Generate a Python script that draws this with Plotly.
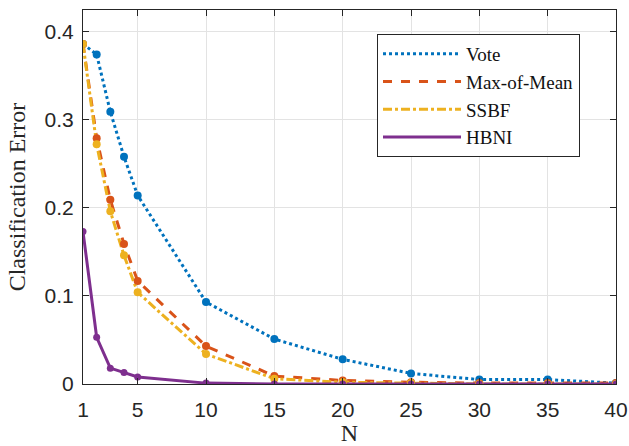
import plotly.graph_objects as go

N = [1, 2, 3, 4, 5, 10, 15, 20, 25, 30, 35, 40]
vote = [0.386, 0.374, 0.309, 0.258, 0.214, 0.093, 0.051, 0.028, 0.012, 0.005, 0.005, 0.001]
max_of_mean = [0.386, 0.279, 0.209, 0.159, 0.117, 0.043, 0.009, 0.004, 0.002, 0.001, 0.001, 0.001]
ssbf = [0.386, 0.272, 0.196, 0.146, 0.104, 0.034, 0.006, 0.002, 0.001, 0.0, 0.0, 0.0]
hbni = [0.173, 0.053, 0.018, 0.013, 0.008, 0.001, 0.0, 0.0, 0.0, 0.0, 0.0, 0.0]
x_ticks = [1, 5, 10, 15, 20, 25, 30, 35, 40]
y_ticks = [0, 0.1, 0.2, 0.3, 0.4]
y_ticktext = ["0", "0.1", "0.2", "0.3", "0.4"]

fig = go.Figure()
series = [
    ("Vote", vote, "#0072BD", "dot", 8),
    ("Max-of-Mean", max_of_mean, "#D95319", "dash", 8),
    ("SSBF", ssbf, "#EDB120", "dashdot", 8),
    ("HBNI", hbni, "#7E2F8E", "solid", 7),
]
for name, vals, color, dash, ms in series:
    fig.add_trace(go.Scatter(
        x=N, y=vals, name=name, mode="lines",
        line=dict(color=color, width=3, dash=dash),
    ))
for name, vals, color, dash, ms in series:
    fig.add_trace(go.Scatter(
        x=N, y=vals, name=name, mode="markers", showlegend=False,
        marker=dict(color=color, size=ms),
    ))

serif = "Liberation Serif, DejaVu Serif, serif"
sans = "Liberation Sans, Arial, sans-serif"
fig.update_layout(
    width=629, height=446,
    margin=dict(l=83, r=13, t=10, b=62),
    plot_bgcolor="white", paper_bgcolor="white",
    showlegend=True,
    legend=dict(
        x=0.5516, y=0.936, xanchor="left", yanchor="top",
        bgcolor="white", bordercolor="#262626", borderwidth=1,
        font=dict(family=serif, size=19, color="#111"),
        tracegroupgap=0, itemwidth=78,
    ),
    xaxis=dict(
        range=[1, 40], tickvals=x_ticks, automargin=False,
        showgrid=True, gridcolor="#e3e3e3", gridwidth=1,
        ticks="inside", ticklen=6, tickcolor="#262626",
        showline=True, linecolor="#262626", linewidth=1, mirror="ticks",
        tickfont=dict(family=sans, size=21, color="#262626"),
        ticklabelstandoff=7,
        title=dict(text="N", font=dict(family=serif, size=24, color="#262626"), standoff=6),
        zeroline=False,
    ),
    yaxis=dict(
        range=[0, 0.4245], tickvals=y_ticks, ticktext=y_ticktext, automargin=False,
        showgrid=True, gridcolor="#e3e3e3", gridwidth=1,
        ticks="inside", ticklen=6, tickcolor="#262626",
        showline=True, linecolor="#262626", linewidth=1, mirror="ticks",
        tickfont=dict(family=sans, size=21, color="#262626"),
        ticklabelstandoff=4,
        title=dict(text="Classification Error", font=dict(family=serif, size=24, color="#262626"), standoff=12),
        zeroline=False,
    ),
)
fig.write_html("out.html")
